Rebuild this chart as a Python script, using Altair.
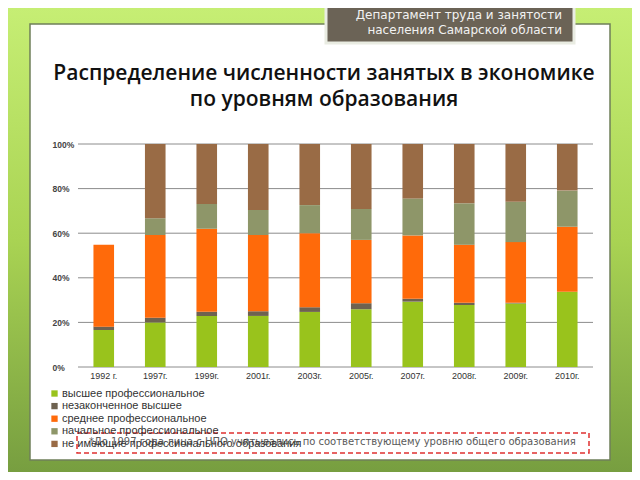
import altair as alt
import pandas as pd

# ---- data ----
years = ["1992 г.", "1997г.", "1999г.", "2001г.", "2003г.", "2005г.", "2007г.", "2008г.", "2009г.", "2010г."]
series = ["высшее профессиональное", "незаконченное высшее", "среднее профессиональное",
          "начальное профессиональное", "не имеющие профессионального образования"]
vysshee = [16.6, 20.0, 22.9, 22.9, 24.7, 25.9, 29.3, 27.8, 28.5, 33.8]
nezak = [1.5, 2.1, 1.9, 2.1, 2.1, 2.7, 1.3, 1.0, 0.3, 0.0]
srednee = [36.7, 37.1, 37.2, 34.2, 33.2, 28.4, 28.4, 26.0, 27.2, 29.1]
nachalnoe = [0.0, 7.5, 11.1, 11.2, 12.6, 13.9, 16.6, 18.6, 18.1, 16.2]
ne_imeyushie = [0.0, 33.3, 26.9, 29.6, 27.4, 29.1, 24.4, 26.6, 25.9, 20.9]
colors = ["#99C31C", "#6E6250", "#FF6A0A", "#8E9669", "#996B45"]
grid_values = [0, 20, 40, 60, 80, 100]

title_lines = ["Распределение численности занятых в экономике", "по уровням образования"]
header_lines = ["Департамент труда и занятости", "населения Самарской области"]
footnote = "*До 1997 года лица с НПО учитывались по соответствующему уровню общего образования"

# ---- build table ----
rows = []
for si, (name, vals) in enumerate(zip(series, [vysshee, nezak, srednee, nachalnoe, ne_imeyushie])):
    for y, v in zip(years, vals):
        rows.append({"year": y, "series": name, "value": v, "order": si})
df = pd.DataFrame(rows)

W, H = 515, 223
PL, PT = 70, 136
TOTW, TOTH = 624, 464

one = pd.DataFrame({"a": [0]})

bg = alt.Chart(one).mark_rect(
    fill=alt.Gradient(gradient="linear",
                      stops=[alt.GradientStop(color="#C6EE74", offset=0),
                             alt.GradientStop(color="#A9D353", offset=0.5),
                             alt.GradientStop(color="#779E40", offset=1)],
                      x1=0, x2=0, y1=0, y2=1)
).encode(x=alt.value(-PL), x2=alt.value(TOTW - PL), y=alt.value(-PT), y2=alt.value(TOTH - PT))

panel = alt.Chart(one).mark_rect(fill="white", stroke="#6F7F5A", strokeWidth=1.5).encode(
    x=alt.value(30 - 78), x2=alt.value(610 - 78), y=alt.value(24 - 144), y2=alt.value(460 - 144))

header = alt.Chart(one).mark_rect(fill="#6B6356", stroke="#E9ECE2", strokeWidth=3).encode(
    x=alt.value(326 - 78), x2=alt.value(574 - 78), y=alt.value(-150), y2=alt.value(43 - 144))

hdf = pd.DataFrame({"t": header_lines, "yy": [15 - 144, 30 - 144]})
header_text = alt.Chart(hdf).mark_text(
    align="right", baseline="middle", font="DejaVu Sans", fontSize=12, color="#F2F2F2"
).encode(x=alt.value(562 - 78), y=alt.Y("yy:Q", scale=None), text="t:N")

tdf = pd.DataFrame({"t": title_lines, "yy": [74 - 144, 100 - 144]})
title_text = alt.Chart(tdf).mark_text(
    align="center", baseline="middle", font="Open Sans", fontSize=21, fontWeight=600, color="#111111"
).encode(x=alt.value(324 - 78), y=alt.Y("yy:Q", scale=None), text="t:N")

yscale = alt.Scale(domain=[0, 100], nice=False)

grid = alt.Chart(pd.DataFrame({"v": grid_values})).mark_rule(color="#8C8C8C", strokeWidth=1).encode(
    y=alt.Y("v:Q", scale=yscale), x=alt.value(0), x2=alt.value(W))

bars = alt.Chart(df).mark_bar().encode(
    x=alt.X("year:N", sort=years, scale=alt.Scale(paddingInner=0.6, paddingOuter=0.3),
            axis=alt.Axis(title=None, labelAngle=0, ticks=False, tickSize=0, domain=False, zindex=2,
                          labelFont="Liberation Sans", labelFontSize=9, labelColor="#333333",
                          labelPadding=4)),
    y=alt.Y("value:Q", stack="zero", scale=yscale,
            axis=alt.Axis(title=None, values=grid_values, labelExpr="datum.value + '%'", zindex=2,
                          ticks=False, tickSize=0, domain=False, grid=False,
                          labelAlign="left", labelPadding=26, labelFont="Liberation Sans",
                          labelFontSize=8.5, labelFontWeight="bold", labelColor="#444444")),
    color=alt.Color("series:N", sort=series,
                    scale=alt.Scale(domain=series, range=colors),
                    legend=alt.Legend(title=None, orient="none", legendX=49 - 78, legendY=388 - 144,
                                      symbolType="square", symbolSize=40, symbolStrokeWidth=0,
                                      labelFont="Liberation Sans", labelFontSize=11,
                                      labelColor="#333333", labelOffset=2, rowPadding=0.6,
                                      labelLimit=400, zindex=2)),
    order=alt.Order("order:Q", sort="ascending"),
)

fbox = alt.Chart(one).mark_rect(fill=None, fillOpacity=0, stroke="#E03030", strokeWidth=1.5,
                                strokeDash=[5, 3]).encode(
    x=alt.value(77 - 78), x2=alt.value(589 - 78), y=alt.value(433 - 144), y2=alt.value(453 - 144))

fdf = pd.DataFrame({"t": [footnote]})
ftext = alt.Chart(fdf).mark_text(
    align="left", baseline="middle", font="DejaVu Sans", fontSize=10, color="#5A5A5A"
).encode(x=alt.value(89 - 78), y=alt.value(442 - 144), text="t:N")

chart = alt.layer(bg, panel, header, header_text, title_text, grid, bars, fbox, ftext).properties(
    width=W, height=H,
    autosize=alt.AutoSizeParams(type="none"),
    padding={"left": PL, "top": PT, "right": TOTW - PL - W, "bottom": TOTH - PT - H},
).configure_view(stroke=None)

chart.save("out.html", embed_options={"renderer": "svg", "actions": False})
